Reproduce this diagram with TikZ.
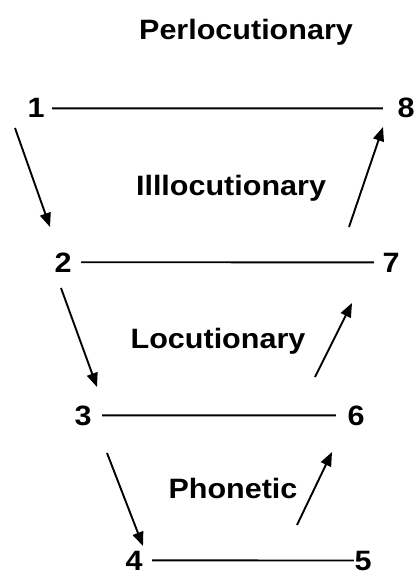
\documentclass[tikz,border=0pt]{standalone}
\usepackage{fontspec}
\newfontfamily\diagfont[FakeStretch=1.09]{Liberation Sans Bold}
\usetikzlibrary{arrows.meta}
\begin{document}
\begin{tikzpicture}[x=1bp,y=-1bp,
  lbl/.style={font=\diagfont\fontsize{28bp}{30bp}\selectfont, inner sep=0pt, anchor=base},
  num/.style={font=\diagfont\fontsize{28bp}{30bp}\selectfont, inner sep=0pt, anchor=base},
  rung/.style={line width=1.9bp},
  flow/.style={line width=1.9bp, -{Triangle[length=14bp,width=11bp]}}]
\useasboundingbox (0,0) rectangle (417,576);

% level labels
\node[lbl] (perl) at (246,40) {Perlocutionary};
\node[lbl] (ill) at (231,195) {Illlocutionary};
\node[lbl] (loc) at (218,348) {Locutionary};
\node[lbl] (pho) at (233,498) {Phonetic};

% numbers
\node[num] (n1) at (36,118) {1};
\node[num] (n8) at (406,118) {8};
\node[num] (n2) at (63,272) {2};
\node[num] (n7) at (391,272) {7};
\node[num] (n3) at (83,425) {3};
\node[num] (n6) at (356,425) {6};
\node[num] (n4) at (134,570) {4};
\node[num] (n5) at (363,570) {5};

% horizontal rungs
\draw[rung, shorten <=7.4bp, shorten >=14.4bp] (n1.east) -- (n8.west);
\draw[rung, shorten <=9.4bp, shorten >=8.4bp] (n2.east) -- (n7.west);
\draw[rung, shorten <=10.4bp, shorten >=11.4bp] (n3.east) -- (n6.west);
\draw[rung, shorten <=9.4bp, shorten >=0.4bp] (n4.east) -- (n5.west);

% arrow end points
\coordinate (d1s) at (15,128);  \coordinate (d1e) at (50,227);
\coordinate (d2s) at (61,288);  \coordinate (d2e) at (97,387);
\coordinate (d3s) at (107,453); \coordinate (d3e) at (143,546);
\coordinate (u1s) at (297,525); \coordinate (u1e) at (332,452);
\coordinate (u2s) at (315,377); \coordinate (u2e) at (352,303);
\coordinate (u3s) at (349,227); \coordinate (u3e) at (383,127);

\draw[flow] (d1s) -- (d1e);
\draw[flow] (d2s) -- (d2e);
\draw[flow] (d3s) -- (d3e);
\draw[flow] (u1s) -- (u1e);
\draw[flow] (u2s) -- (u2e);
\draw[flow] (u3s) -- (u3e);
\end{tikzpicture}
\end{document}
